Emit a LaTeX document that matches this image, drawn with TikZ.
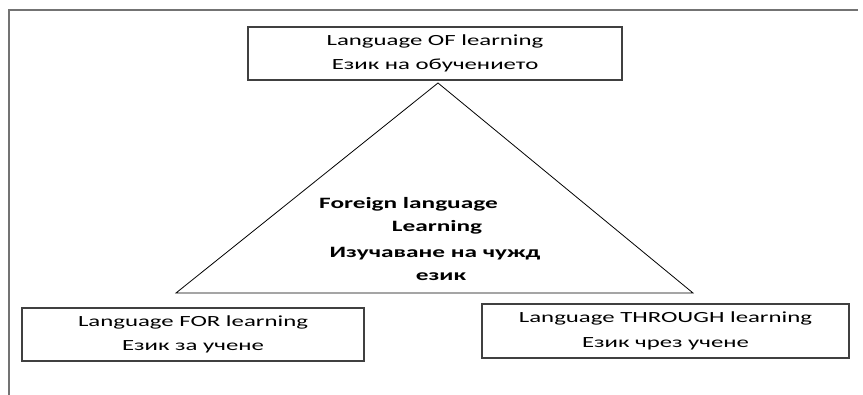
\documentclass[tikz,border=0pt]{standalone}
\usepackage{fontspec}
\setmainfont{Carlito}[FakeStretch=1.6]

\begin{document}
\begin{tikzpicture}[x=1pt,y=-1pt,
    box/.style={draw=black!75,line width=1.2pt,align=center,inner sep=0pt,
      font=\fontsize{15.5}{24.5}\selectfont},
    tritext/.style={anchor=base,inner sep=0pt,font=\bfseries\fontsize{15.8}{19}\selectfont}]
  \useasboundingbox (0,0) rectangle (863,395);
  \draw[black!55,line width=1.5pt] (9,395) -- (9,10) -- (858,10);
  \node[box,minimum width=374pt,minimum height=53pt] (of) at (435,53.5)
    {Language OF learning\\Език на обучението};
  \node[box,minimum width=342pt,minimum height=53pt] (for) at (193,334.5)
    {Language FOR learning\\Език за учене};
  \node[box,minimum width=367pt,minimum height=54pt] (through) at (665.5,331)
    {Language THROUGH learning\\Език чрез учене};
  \coordinate (apex) at (438,83);
  \coordinate (baseleft) at (176,293);
  \coordinate (baseright) at (693,293);
  \draw[line width=0.8pt] (apex) -- (baseleft) -- (baseright) -- cycle;
  \node[tritext,anchor=base west] (foreign) at (319,209) {Foreign language};
  \node[tritext] (learning) at (437,232) {Learning};
  \node[tritext] (izuch) at (435,258) {Изучаване на чужд};
  \node[tritext] (ezik) at (441,281) {език};
\end{tikzpicture}
\end{document}
